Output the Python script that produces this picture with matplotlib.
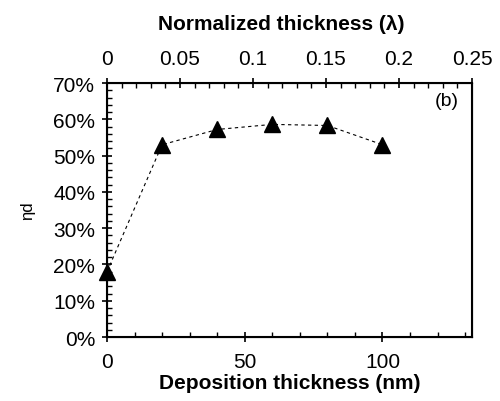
import matplotlib.pyplot as plt
from matplotlib.ticker import MultipleLocator, PercentFormatter

plt.rcParams['font.family'] = ['Liberation Sans', 'DejaVu Sans']

thickness = [0, 20, 40, 60, 80, 100]          # nm
eta_d = [18.0, 53.0, 57.2, 58.6, 58.3, 53.0]  # %
norm_ticks = [0, 0.05, 0.1, 0.15, 0.2, 0.25]
x_max = 132.5  # nm, equals 0.25 lambda

fig = plt.figure(figsize=(5, 4.02), dpi=100)
ax = fig.add_axes([0.214, 0.159, 0.73, 0.632])

ax.plot(thickness, eta_d, linestyle=(0, (3, 3)), color='black', linewidth=0.8)
ax.plot(thickness, eta_d, linestyle='none', marker='^', markersize=11,
        color='black', clip_on=False, zorder=5)

ax.set_xlim(0, x_max)
ax.set_ylim(0, 70)
ax.xaxis.set_major_locator(MultipleLocator(50))
ax.xaxis.set_minor_locator(MultipleLocator(10))
ax.yaxis.set_major_locator(MultipleLocator(10))
ax.yaxis.set_minor_locator(MultipleLocator(2))
ax.yaxis.set_major_formatter(PercentFormatter(decimals=0))

ax.tick_params(which='major', direction='inout', length=7, width=1.2,
               labelsize=15, top=False, right=False)
ax.tick_params(axis='x', which='major', pad=7)
ax.tick_params(axis='y', which='major', pad=5)
ax.tick_params(which='minor', direction='in', length=3.5, width=1.0,
               top=False, right=False)
for s in ax.spines.values():
    s.set_linewidth(1.5)

ax.set_xlabel('Deposition thickness (nm)', fontsize=15, fontweight='bold', labelpad=2)
ax.set_ylabel('ηd', fontsize=12, labelpad=13)

ax2 = ax.twiny()
ax2.set_xlim(0, 0.25)
ax2.set_xticks(norm_ticks)
ax2.set_xticklabels(['0', '0.05', '0.1', '0.15', '0.2', '0.25'])
ax2.xaxis.set_minor_locator(MultipleLocator(0.01))
ax2.tick_params(which='major', direction='inout', length=7, width=1.2,
                labelsize=15, pad=7.5)
ax2.tick_params(which='minor', direction='in', length=3.5, width=1.0)
ax2.set_xlabel('Normalized thickness (λ)', fontsize=15, fontweight='bold', labelpad=14)
ax2.xaxis.label.set_x(0.478)

ax.text(0.965, 0.93, '(b)', transform=ax.transAxes, ha='right', va='center', fontsize=14)

fig.savefig('out.png', dpi=100)
